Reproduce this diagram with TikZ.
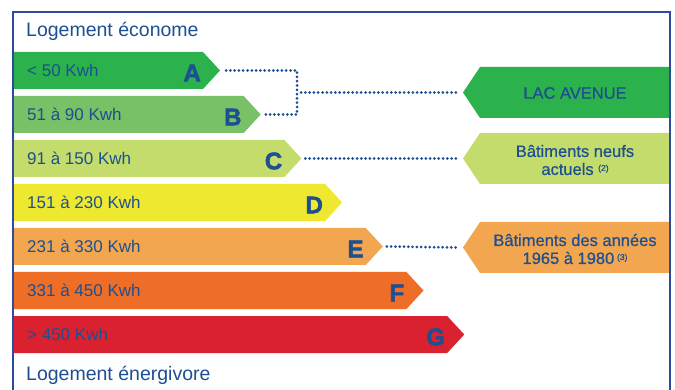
\documentclass[tikz,border=0pt]{standalone}
\usepackage{fontspec}
\setmainfont{Liberation Sans}
\newfontfamily\heavyfont[FakeBold=2.2]{Liberation Sans Bold}
\newfontfamily\midfont[FakeBold=0.6]{Liberation Sans}
\definecolor{txt}{HTML}{1D4F91}
\definecolor{framec}{HTML}{2E4A9B}
\definecolor{cA}{HTML}{2BB24C}
\definecolor{cB}{HTML}{78C166}
\definecolor{cC}{HTML}{C3DC6C}
\definecolor{cD}{HTML}{EEE930}
\definecolor{cE}{HTML}{F2A650}
\definecolor{cF}{HTML}{EE6E28}
\definecolor{cG}{HTML}{DA212F}
\begin{document}
\begin{tikzpicture}[x=1pt,y=-1pt,
  lab/.style={anchor=west,text=txt,font=\fontsize{17}{17}\selectfont,inner sep=0pt},
  letter/.style={anchor=east,text=txt,font=\heavyfont\fontsize{24}{24}\selectfont,inner sep=0pt},
  title/.style={anchor=west,text=txt,font=\fontsize{19.5}{19.5}\selectfont,inner sep=0pt},
  dots/.style={txt,line width=3pt,line cap=round,dash pattern=on 0pt off 4.3pt},
  rtext/.style={text=txt,font=\midfont\fontsize{16.5}{18}\selectfont,align=center,inner sep=0pt}]
\useasboundingbox (0,0) rectangle (675,390);
\fill[white] (0,0) rectangle (675,390);
\node[title] (top) at (26,31) {Logement économe};
\node[title] (bottom) at (26,375) {Logement énergivore};
\foreach \n/\t/\e/\c/\lab in {A/52/203/cA/{< 50 Kwh},B/96/243.7/cB/{51 à 90 Kwh},C/140/284.4/cC/{91 à 150 Kwh},D/184/325.1/cD/{151 à 230 Kwh},E/228/365.8/cE/{231 à 330 Kwh},F/272/406.5/cF/{331 à 450 Kwh},G/316/447.2/cG/{> 450 Kwh}}{
  \fill[\c] (13,\t) -- (\e,\t) -- (\e+17,\t+18.5) -- (\e,\t+37) -- (13,\t+37) -- cycle;
  \coordinate (tip\n) at (\e+17,\t+18.5);
  \node[lab] (lab\n) at (27,\t+18) {\lab};
  \node[letter] (let\n) at (\e-2,\t+21) {\n};
}
% right boxes
\fill[cA] (480,67) -- (670,67) -- (670,118) -- (480,118) -- (463,92.5) -- cycle;
\coordinate (tipLAC) at (463,92.5);
\node[rtext] (lac) at (575,93) {LAC AVENUE};
\fill[cC] (480,133) -- (670,133) -- (670,184) -- (480,184) -- (463,158.5) -- cycle;
\coordinate (tipNeuf) at (463,158.5);
\node[rtext] (neuf) at (575,160) {Bâtiments neufs\\actuels {\fontsize{8.5}{8.5}\selectfont\raisebox{4pt}{(2)}}};
\fill[cE] (480,222) -- (670,222) -- (670,273) -- (480,273) -- (463,247.5) -- cycle;
\coordinate (tipAnc) at (463,247.5);
\node[rtext] (anc) at (575,249) {Bâtiments des années\\1965 à 1980\,{\fontsize{8.5}{8.5}\selectfont\raisebox{4pt}{(3)}}};
% connectors
\coordinate (jAB) at (297,92.5);
\draw[dots] ([xshift=6]tipA) -| (jAB) |- ([xshift=5]tipB);
\draw[dots] ([xshift=4]jAB) -- ([xshift=-5]tipLAC);
\draw[dots] ([xshift=4]tipC) -- ([xshift=-5]tipNeuf);
\draw[dots] ([xshift=4]tipE) -- ([xshift=-5]tipAnc);
% frame
\draw[framec,line width=2pt] (13,395) -- (13,12.5) -- (670,12.5) -- (670,395);
\end{tikzpicture}
\end{document}
